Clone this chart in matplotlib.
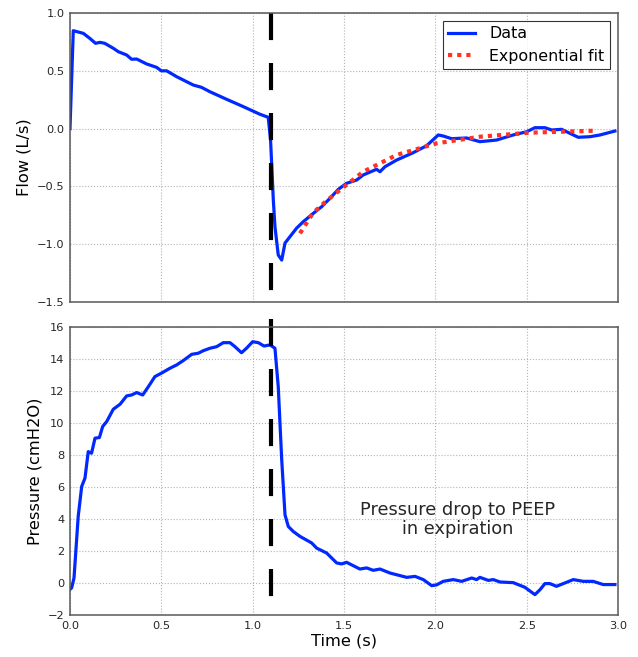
import matplotlib
matplotlib.use('Agg')
from matplotlib import pyplot as plt

# flow trace (s, L/s)
flow_t = [0.0, 0.018, 0.073, 0.109, 0.14, 0.164, 0.19, 0.237, 0.265, 0.31, 0.337,
          0.365, 0.42, 0.474, 0.5, 0.529, 0.584, 0.675, 0.72, 0.766, 0.858, 0.949,
          1.04, 1.085, 1.098, 1.113, 1.122, 1.14, 1.159, 1.177, 1.24, 1.277, 1.332,
          1.378, 1.423, 1.469, 1.514, 1.569, 1.605, 1.678, 1.697, 1.724, 1.788,
          1.879, 1.952, 2.016, 2.043, 2.089, 2.171, 2.244, 2.335, 2.426, 2.5,
          2.545, 2.6, 2.637, 2.691, 2.737, 2.782, 2.846, 2.901, 2.983]
flow = [0.0, 0.847, 0.824, 0.78, 0.738, 0.746, 0.738, 0.695, 0.665, 0.637, 0.6,
        0.602, 0.559, 0.53, 0.5, 0.5, 0.449, 0.377, 0.357, 0.319, 0.253, 0.19,
        0.124, 0.098, -0.099, -0.618, -0.848, -1.093, -1.137, -0.99, -0.862,
        -0.805, -0.733, -0.675, -0.603, -0.525, -0.473, -0.445, -0.401, -0.352,
        -0.373, -0.33, -0.272, -0.208, -0.148, -0.055, -0.064, -0.087, -0.081,
        -0.113, -0.099, -0.055, -0.027, 0.008, 0.008, -0.012, -0.006, -0.041,
        -0.075, -0.07, -0.055, -0.021]

# exponential fit of expiratory flow
fit_t = [1.259, 1.33, 1.4, 1.478, 1.605, 1.788, 2.007, 2.244, 2.518, 2.874]
fit_flow = [-0.906, -0.73, -0.63, -0.531, -0.373, -0.228, -0.127, -0.07, -0.035, -0.018]

# pressure trace (s, cmH2O)
pres_t = [0.0, 0.009, 0.022, 0.045, 0.064, 0.082, 0.1, 0.118, 0.137, 0.161, 0.179,
          0.201, 0.237, 0.274, 0.31, 0.337, 0.365, 0.398, 0.429, 0.465, 0.5, 0.547,
          0.584, 0.62, 0.666, 0.702, 0.73, 0.766, 0.803, 0.839, 0.876, 0.903,
          0.939, 0.966, 1.0, 1.031, 1.062, 1.095, 1.122, 1.14, 1.159, 1.177,
          1.195, 1.222, 1.259, 1.323, 1.35, 1.405, 1.46, 1.487, 1.514, 1.587,
          1.624, 1.66, 1.697, 1.752, 1.843, 1.889, 1.934, 1.98, 2.007, 2.043,
          2.098, 2.144, 2.199, 2.226, 2.244, 2.29, 2.317, 2.354, 2.426, 2.49,
          2.545, 2.573, 2.6, 2.627, 2.663, 2.718, 2.755, 2.81, 2.864, 2.919, 2.983]
pressure = [-0.4, -0.31, 0.31, 4.16, 6.03, 6.55, 8.21, 8.11, 9.05, 9.09, 9.78,
            10.09, 10.86, 11.17, 11.69, 11.75, 11.9, 11.75, 12.27, 12.9, 13.11,
            13.42, 13.63, 13.9, 14.29, 14.36, 14.52, 14.67, 14.77, 15.02, 15.02,
            14.77, 14.39, 14.67, 15.08, 15.02, 14.81, 14.88, 14.67, 12.27, 7.7,
            4.26, 3.53, 3.22, 2.91, 2.5, 2.18, 1.87, 1.25, 1.19, 1.29, 0.87, 0.94,
            0.79, 0.87, 0.62, 0.35, 0.41, 0.21, -0.17, -0.12, 0.1, 0.21, 0.1, 0.31,
            0.21, 0.35, 0.16, 0.21, 0.06, 0.02, -0.27, -0.73, -0.42, -0.04, -0.04,
            -0.21, 0.04, 0.21, 0.1, 0.1, -0.1, -0.1]

t_switch = 1.1

blue = '#0028ff'
red = '#ff3322'

fig = plt.figure(figsize=(6.38, 6.57), dpi=100)
ax1 = fig.add_axes([0.1097, 0.5403, 0.859, 0.4399])
ax2 = fig.add_axes([0.1097, 0.064, 0.859, 0.4383])

for ax in (ax1, ax2):
    ax.grid(True, color='0.7', linestyle=':', linewidth=0.8)
    ax.tick_params(length=0, labelsize=8.2, colors='0.15', pad=4)
    for s in ax.spines.values():
        s.set_color('0.35')
        s.set_linewidth(1.1)
    ax.set_xlim(0, 3.0)
    ax.set_xticks([0.0, 0.5, 1.0, 1.5, 2.0, 2.5, 3.0])

# top: flow
ax1.plot(flow_t, flow, color=blue, linewidth=2.3, label='Data')
ax1.plot(fit_t, fit_flow, color=red, linewidth=3, linestyle=(0, (1, 1.2)),
         label='Exponential fit')
ax1.plot([t_switch, t_switch], [1.0, -1.5], color='k', linewidth=3,
         dashes=(6.5, 5.5), clip_on=False)
ax1.set_ylim(-1.5, 1.0)
ax1.set_yticks([-1.5, -1.0, -0.5, 0.0, 0.5, 1.0])
ax1.set_xticklabels([])
ax1.set_ylabel('Flow (L/s)', fontsize=11.7)
leg = ax1.legend(loc='upper right', fontsize=11.4, fancybox=False,
                 handlelength=1.7, handletextpad=0.9, borderpad=0.35,
                 labelspacing=0.45)
leg.get_frame().set_edgecolor('k')
leg.get_frame().set_linewidth(0.8)

# bottom: pressure
ax2.plot(pres_t, pressure, color=blue, linewidth=2.3)
ax2.plot([t_switch, t_switch], [16.5, -1.5], color='k', linewidth=3,
         dashes=(6.5, 5.5), clip_on=False)
ax2.set_ylim(-2, 16)
ax2.set_yticks(range(-2, 17, 2))
ax2.set_ylabel('Pressure (cmH2O)', fontsize=11.7)
ax2.set_xlabel('Time (s)', fontsize=11.7, labelpad=2)
ax2.text(2.12, 3.95, 'Pressure drop to PEEP\nin expiration', ha='center',
         va='center', fontsize=12.8, color='0.15', linespacing=1.1)

fig.align_ylabels([ax1, ax2])
fig.savefig('out.png', dpi=100)
